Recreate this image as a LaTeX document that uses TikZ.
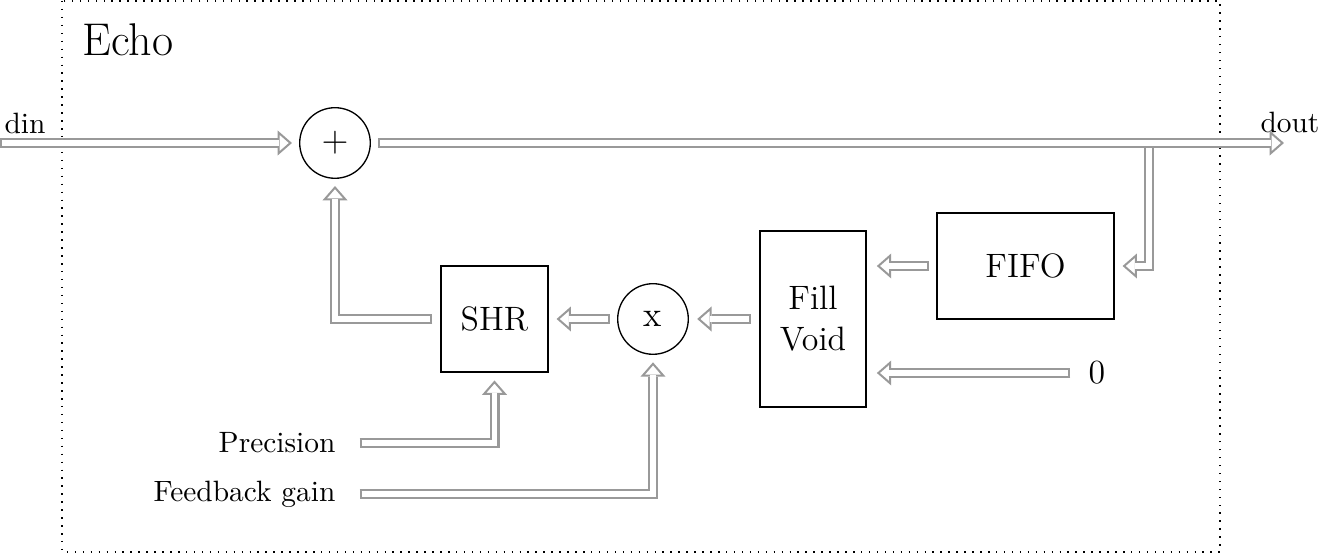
\documentclass[tikz,border=0pt]{standalone}
\usetikzlibrary{arrows.meta}
\begin{document}
\begin{tikzpicture}[x=0.34pt,y=-0.34pt,
  conn/.style 2 args={
    preaction={draw=black!40, line width=3.4pt, line cap=butt, line join=miter,
      shorten <=#1, shorten >=#2+4.9pt},
    preaction={draw=black!40, line width=0.68pt, dash pattern=on 0pt off 2000pt,
      shorten >=#2, -{Triangle[open, fill=white, length=4.9pt, width=8.4pt]}},
    draw=white, line width=2.0pt, line cap=butt, line join=miter,
    shorten <=#1+0.68pt, shorten >=#2+4.3pt},
  circ/.style={draw, line width=0.45pt, circle, minimum size=24pt, inner sep=0pt, font=\fontsize{12}{14}\selectfont},
  lbl/.style={inner sep=0pt, font=\fontsize{10}{12}\selectfont},
  big/.style={font=\fontsize{11.5}{14}\selectfont}]
\useasboundingbox (0,0) rectangle (1320,554);
\draw[line width=0.5pt, dash pattern=on 0.5pt off 2.2pt] (62,1) rectangle (1220,552);
\node[anchor=base west, inner sep=0pt, font=\fontsize{15.6}{18}\selectfont] (echo) at (82,56) {Echo};
% nodes
\node[circ] (plus) at (335,143) {$+$};
\node[circ] (mul) at (653,319) {x};
\node[draw, line width=0.4pt, big, minimum width=60.2pt, minimum height=36pt] (fifo) at (1025.5,266) {FIFO};
\node[draw, line width=0.6pt, big, minimum width=36pt, minimum height=59.8pt, align=center] (fill) at (813,319) {Fill\\Void};
\node[draw, line width=0.4pt, big, minimum width=36.4pt, minimum height=36pt] (shr) at (494.5,319) {SHR};
\node[lbl, anchor=south] (din) at (25,134) {din};
\node[lbl, anchor=south] (dout) at (1290,133) {dout};
\node[lbl, anchor=east] (prec) at (336,443) {Precision};
\node[lbl, anchor=east] (fb) at (336,494) {Feedback gain};
\node[big, anchor=west, inner sep=0pt] (zero) at (1088,373) {0};
\coordinate (inl) at (0,143);
\coordinate (outr) at (1284,143);
\coordinate (br) at (1149,143);
% connectors
\draw[conn={0pt}{2.7pt}] (br) |- (fifo.east);
\draw[conn={0pt}{2.4pt}] (inl) -- (plus.west);
\draw[conn={2.5pt}{0pt}] (plus.east) -- (outr);
\draw[conn={2.5pt}{3.4pt}] (fifo.west) -- (fill.east |- fifo.west);
\draw[conn={6pt}{3.4pt}] (zero.west) -- (fill.east |- zero.west);
\draw[conn={2.7pt}{2.8pt}] (fill.west) -- (mul.east);
\draw[conn={2.5pt}{2.7pt}] (mul.west) -- (shr.east);
\draw[conn={2.7pt}{2.4pt}] (shr.west) -| (plus.south);
\draw[conn={8pt}{2.7pt}] (prec.east) -| (shr.south);
\draw[conn={8pt}{2.5pt}] (fb.east) -| (mul.south);
\end{tikzpicture}
\end{document}
